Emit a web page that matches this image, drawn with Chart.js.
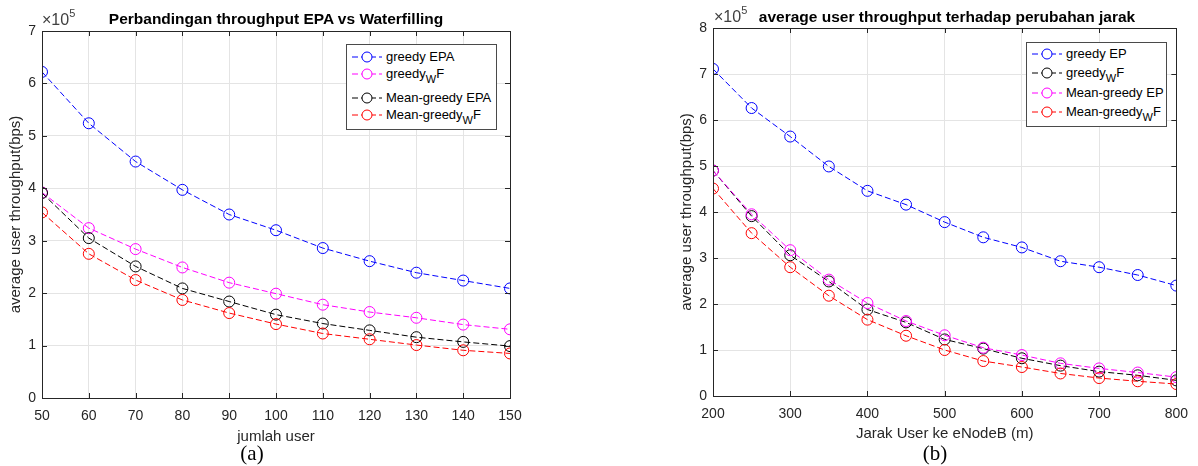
<!DOCTYPE html>
<html>
<head>
<meta charset="utf-8">
<script src="https://cdn.jsdelivr.net/npm/chart.js@4.4.1/dist/chart.umd.min.js"></script>
<style>
  html, body { margin:0; padding:0; background:#fff; }
  body { width:1198px; height:466px; position:relative; overflow:hidden; font-family:"Liberation Sans", Arial, sans-serif; }
  .cv { position:absolute; top:0; }
  .title { position:absolute; font-weight:bold; font-size:15.5px; color:#000; white-space:nowrap; transform:translate(-50%,-50%); }
  .exp { position:absolute; font-size:16px; color:#404040; white-space:nowrap; line-height:18px; }
  .exp sup { font-size:11px; position:relative; top:-2px; vertical-align:super; line-height:0; }
  .cap { position:absolute; font-family:"Liberation Serif","Times New Roman",serif; font-size:21px; color:#000; transform:translate(-50%,-50%); white-space:nowrap; }
  .legend { position:absolute; border:1px solid #4a4a4a; background:#fff; box-sizing:border-box; }
  .row { position:absolute; left:0; height:0; }
  .row svg { position:absolute; left:4px; top:-6px; }
  .row span { position:absolute; left:39px; top:-8px; font-size:13px; color:#000; white-space:nowrap; line-height:16px; }
  .row sub { font-size:11px; vertical-align:-5px; line-height:0; }
</style>
</head>
<body>
<div class="cv" style="left:0;width:600px;height:466px;"><canvas id="c1" width="600" height="466"></canvas></div>
<div class="cv" style="left:600px;width:598px;height:466px;"><canvas id="c2" width="598" height="466"></canvas></div>

<div class="title" style="left:276px;top:19px;">Perbandingan throughput EPA vs Waterfilling</div>
<div class="title" style="left:947px;top:17px;">average user throughput terhadap perubahan jarak</div>
<div class="exp" style="left:42px;top:11px;">×10<sup>5</sup></div>
<div class="exp" style="left:714px;top:8px;">×10<sup>5</sup></div>
<div class="cap" style="left:252px;top:453px;">(a)</div>
<div class="cap" style="left:935px;top:453px;">(b)</div>

<div class="legend" style="left:346px;top:44px;width:151px;height:86px;" id="leg1"></div>
<div class="legend" style="left:1026px;top:42px;width:141px;height:85px;" id="leg2"></div>

<script>
// ---------- data (a) ----------
const users = [50, 60, 70, 80, 90, 100, 110, 120, 130, 140, 150];
const greedyEPA     = [622000, 524000, 451000, 397000, 350000, 320000, 286000, 261000, 239000, 224000, 209000];
const greedyWF      = [392000, 324000, 284000, 249000, 220000, 199000, 178000, 164000, 153000, 140000, 131000];
const meanGreedyEPA = [391000, 305000, 251000, 209000, 184000, 159000, 142000, 129000, 116000, 107000, 99000];
const meanGreedyWF  = [354000, 275000, 225000, 187000, 162000, 141000, 123000, 112000, 101000, 91000, 85000];
const xTicksA = [50, 60, 70, 80, 90, 100, 110, 120, 130, 140, 150];
const yTicksA = [0, 1, 2, 3, 4, 5, 6, 7];

// ---------- data (b) ----------
const distances = [200, 250, 300, 350, 400, 450, 500, 550, 600, 650, 700, 750, 800];
const greedyEP_b      = [711000, 626000, 564000, 499000, 446000, 416000, 378000, 345000, 323000, 293000, 280000, 263000, 240000];
const greedyWF_b      = [490000, 391000, 306000, 249000, 188000, 160000, 123000, 103000, 82000, 66000, 53000, 45000, 34000];
const meanGreedyEP_b  = [490000, 395000, 317000, 253000, 202000, 163000, 132000, 105000, 89000, 71000, 60000, 51000, 41000];
const meanGreedyWF_b  = [451000, 354000, 280000, 218000, 166000, 131000, 100000, 76000, 63000, 49000, 39000, 32000, 26000];
const xTicksB = [200, 300, 400, 500, 600, 700, 800];
const yTicksB = [0, 1, 2, 3, 4, 5, 6, 7, 8];

const labelsA = ['greedy EPA', 'greedy<sub>W</sub>F', 'Mean-greedy EPA', 'Mean-greedy<sub>W</sub>F'];
const labelsB = ['greedy EP', 'greedy<sub>W</sub>F', 'Mean-greedy EP', 'Mean-greedy<sub>W</sub>F'];
const colorsA = ['#0000ff', '#ff00ff', '#000000', '#ff0000'];
const colorsB = ['#0000ff', '#000000', '#ff00ff', '#ff0000'];
const SCALE = 100000;

const FONT = '"Liberation Sans", Arial, sans-serif';
const AX = '#262626';

function ds(label, xs, ys, color, idx) {
  return {
    label: label,
    data: ys.map((v, i) => ({ x: xs[i], y: v })),
    borderColor: color,
    backgroundColor: 'rgba(0,0,0,0)',
    borderWidth: 1,
    borderDash: [6, 3],
    pointRadius: 5.5,
    pointHoverRadius: 5.5,
    pointBorderWidth: 1,
    pointBorderColor: color,
    pointBackgroundColor: 'rgba(0,0,0,0)',
    tension: 0,
    fill: false,
    order: 4 - idx
  };
}

const boxPlugin = {
  id: 'box',
  afterDraw(chart) {
    const { ctx, chartArea: a, scales } = chart;
    ctx.save();
    ctx.strokeStyle = AX;
    ctx.lineWidth = 1;
    const tl = 5;
    ctx.beginPath();
    scales.x.ticks.forEach(t => {
      const px = Math.round(scales.x.getPixelForValue(t.value)) + 0.5;
      ctx.moveTo(px, a.bottom); ctx.lineTo(px, a.bottom - tl);
      ctx.moveTo(px, a.top); ctx.lineTo(px, a.top + tl);
    });
    scales.y.ticks.forEach(t => {
      const py = Math.round(scales.y.getPixelForValue(t.value)) + 0.5;
      ctx.moveTo(a.left, py); ctx.lineTo(a.left + tl, py);
      ctx.moveTo(a.right, py); ctx.lineTo(a.right - tl, py);
    });
    ctx.stroke();
    ctx.strokeRect(Math.round(a.left) + 0.5, Math.round(a.top) + 0.5, Math.round(a.right - a.left), Math.round(a.bottom - a.top));
    ctx.restore();
  }
};

function makeChart(id, xs, series, labels, colors, xTicks, yTicks, xTitle, pad, yWidth, xHeight, titlePadBottom) {
  const ymax = yTicks[yTicks.length - 1];
  return new Chart(document.getElementById(id), {
    type: 'line',
    data: { datasets: series.map((s, i) => ds(labels[i], xs, s, colors[i], i)) },
    options: {
      responsive: false,
      animation: false,
      events: [],
      layout: { padding: pad },
      plugins: { legend: { display: false }, title: { display: false }, tooltip: { enabled: false } },
      scales: {
        x: {
          type: 'linear', min: xTicks[0], max: xTicks[xTicks.length - 1],
          afterBuildTicks(s) { s.ticks = xTicks.map(v => ({ value: v })); },
          ticks: { font: { family: FONT, size: 14 }, color: AX, padding: 10, maxRotation: 0, autoSkip: false },
          grid: { color: '#e4e4e4', drawTicks: false, lineWidth: 1 },
          border: { display: true, color: AX, width: 1 },
          title: { display: true, text: xTitle, font: { family: FONT, size: 15 }, color: AX, padding: { top: 0, bottom: titlePadBottom } },
          afterFit(s) { s.height = xHeight; }
        },
        y: {
          type: 'linear', min: 0, max: ymax * SCALE,
          afterBuildTicks(s) { s.ticks = yTicks.map(v => ({ value: v * SCALE })); },
          ticks: { font: { family: FONT, size: 14 }, color: AX, padding: 6, callback: v => String(v / SCALE) },
          grid: { color: '#e4e4e4', drawTicks: false, lineWidth: 1 },
          border: { display: true, color: AX, width: 1 },
          title: { display: true, text: 'average user throughput(bps)', font: { family: FONT, size: 15 }, color: AX, padding: { top: 7, bottom: 0 } },
          afterFit(s) { s.width = yWidth; }
        }
      }
    },
    plugins: [boxPlugin]
  });
}

makeChart('c1', users, [greedyEPA, greedyWF, meanGreedyEPA, meanGreedyWF], labelsA, colorsA,
  xTicksA, yTicksA, 'jumlah user', { top: 31, right: 90, left: 0, bottom: 0 }, 42, 68, 20);
makeChart('c2', distances, [greedyEP_b, greedyWF_b, meanGreedyEP_b, meanGreedyWF_b], labelsB, colorsB,
  xTicksB, yTicksB, 'Jarak User ke eNodeB (m)', { top: 28, right: 17, left: 71, bottom: 0 }, 42, 70, 23);

// ---------- legends ----------
function legend(el, labels, colors, rows) {
  const box = document.getElementById(el);
  labels.forEach((lab, i) => {
    const r = document.createElement('div');
    r.className = 'row';
    r.style.top = rows[i] + 'px';
    r.innerHTML = '<svg width="32" height="12"><line x1="1" y1="6" x2="31" y2="6" stroke="' + colors[i] +
      '" stroke-width="1" stroke-dasharray="6,3"/><circle cx="16" cy="6" r="5" fill="#fff" stroke="' + colors[i] +
      '" stroke-width="1"/></svg><span>' + lab + '</span>';
    box.appendChild(r);
  });
}
legend('leg1', labelsA, colorsA, [12, 29, 53, 70]);
legend('leg2', labelsB, colorsB, [11, 30, 50, 69]);
</script>
</body>
</html>
